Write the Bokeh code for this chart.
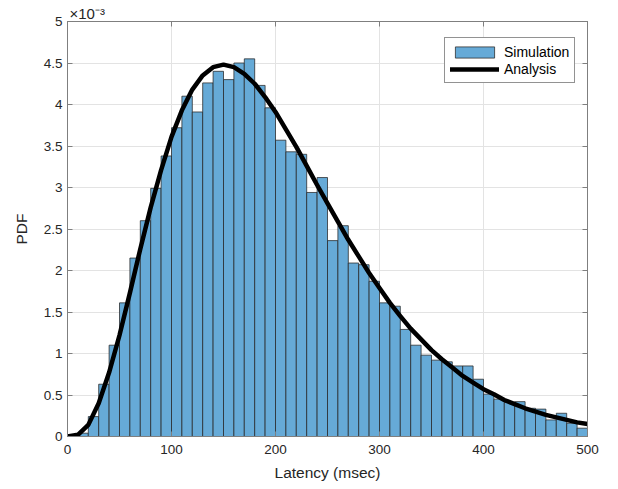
from bokeh.plotting import figure
from bokeh.models import (Range1d, FixedTicker, LinearAxis, Legend,
                          LegendItem, ColumnDataSource, Title)
from bokeh.embed import file_html
from bokeh.resources import INLINE

# ---- data (PDF values in units of 1e-3) ----
bin_left = [10, 20, 30, 40, 50, 60, 70, 80, 90, 100, 110, 120, 130, 140, 150,
            160, 170, 180, 190, 200, 210, 220, 230, 240, 250, 260, 270, 280,
            290, 300, 310, 320, 330, 340, 350, 360, 370, 380, 390, 400, 410,
            420, 430, 440, 450, 460, 470, 480, 490]
bin_width = 10
sim_pdf = [0.04, 0.24, 0.63, 1.10, 1.61, 2.15, 2.60, 2.99, 3.38, 3.72, 4.10,
           3.91, 4.26, 4.40, 4.30, 4.50, 4.55, 4.23, 3.96, 3.57, 3.43, 3.40,
           2.94, 3.12, 2.36, 2.54, 2.09, 2.07, 1.87, 1.61, 1.57, 1.29, 1.10,
           0.98, 0.92, 0.90, 0.85, 0.85, 0.69, 0.51, 0.45, 0.41, 0.42, 0.34,
           0.33, 0.20, 0.28, 0.16, 0.10]
curve_x = [0, 10, 20, 30, 40, 50, 60, 70, 80, 90, 100, 110, 120, 130, 140, 150,
           160, 170, 180, 190, 200, 210, 220, 230, 240, 250, 260, 270, 280, 290,
           300, 310, 320, 330, 340, 350, 360, 370, 380, 390, 400, 410, 420, 430,
           440, 450, 460, 470, 480, 490, 500]
curve_pdf = [0.0, 0.02, 0.14, 0.40, 0.77, 1.22, 1.73, 2.26, 2.76, 3.21, 3.61,
             3.93, 4.18, 4.35, 4.45, 4.48, 4.45, 4.37, 4.25, 4.09, 3.91, 3.70,
             3.49, 3.26, 3.03, 2.81, 2.59, 2.37, 2.17, 1.97, 1.79, 1.61, 1.45,
             1.30, 1.17, 1.04, 0.93, 0.83, 0.73, 0.65, 0.57, 0.51, 0.44, 0.39,
             0.34, 0.30, 0.26, 0.23, 0.20, 0.17, 0.15]
x_ticks = [0, 100, 200, 300, 400, 500]
y_ticks = [0, 0.5, 1, 1.5, 2, 2.5, 3, 3.5, 4, 4.5, 5]
y_tick_labels = ["0", "0.5", "1", "1.5", "2", "2.5", "3", "3.5", "4", "4.5", "5"]
y_exponent_label = "×10⁻³"

FONT = "Liberation Sans"
AX = "#7f7f7f"
TXT = "#262626"

p = figure(width=618, height=489, output_backend="svg", toolbar_location=None,
           x_range=Range1d(0, 500), y_range=Range1d(0, 5),
           min_border_left=67, min_border_right=31, min_border_top=21,
           min_border_bottom=53)
p.background_fill_color = "white"
p.border_fill_color = "white"
p.outline_line_color = AX
p.outline_line_width = 1

bars_src = ColumnDataSource(dict(
    left=bin_left,
    right=[b + bin_width for b in bin_left],
    top=sim_pdf))
bars = p.quad(left="left", right="right", top="top", bottom=0, source=bars_src,
              fill_color="#66aad7", fill_alpha=1.0,
              line_color="#262626", line_alpha=0.75, line_width=1)
curve = p.line(curve_x, curve_pdf, line_color="black", line_width=4.5,
               line_join="round", line_cap="round")

# axes styling
for ax in (p.xaxis[0], p.yaxis[0]):
    ax.axis_line_color = AX
    ax.major_tick_line_color = AX
    ax.major_tick_in = 5
    ax.major_tick_out = 0
    ax.minor_tick_line_color = None
    ax.major_label_text_font = FONT
    ax.major_label_text_font_size = "13.5px"
    ax.major_label_text_color = TXT
    ax.axis_label_text_font = FONT
    ax.axis_label_text_font_size = "15.5px"
    ax.axis_label_text_font_style = "normal"
    ax.axis_label_text_color = TXT

p.xaxis[0].ticker = FixedTicker(ticks=x_ticks)
p.xaxis[0].axis_label = "Latency (msec)"
p.xaxis[0].major_label_standoff = 8
p.xaxis[0].axis_label_standoff = 7

p.yaxis[0].ticker = FixedTicker(ticks=y_ticks)
p.yaxis[0].major_label_overrides = {t: s for t, s in zip(y_ticks, y_tick_labels)}
p.yaxis[0].axis_label = "PDF"
p.yaxis[0].major_label_standoff = 5
p.yaxis[0].axis_label_standoff = 11

# mirrored tick marks (box on)
right_ax = LinearAxis(ticker=FixedTicker(ticks=y_ticks),
                      major_label_overrides={t: "" for t in y_ticks})
top_ax = LinearAxis(ticker=FixedTicker(ticks=x_ticks),
                    major_label_overrides={t: "" for t in x_ticks})
for ax in (right_ax, top_ax):
    ax.axis_line_color = AX
    ax.major_tick_line_color = AX
    ax.major_tick_in = 5
    ax.major_tick_out = 0
    ax.minor_tick_line_color = None
    ax.major_label_standoff = 0
    ax.major_label_text_font_size = "1px"
p.add_layout(right_ax, "right")
p.add_layout(top_ax, "above")

# exponent marker above the top-left corner, as in MATLAB
exp_title = Title(text=y_exponent_label, align="left", offset=2, standoff=0,
                  text_font=FONT, text_font_size="15px",
                  text_font_style="normal", text_color=TXT)
p.add_layout(exp_title, "above")

# grid
p.xgrid.ticker = FixedTicker(ticks=x_ticks)
p.ygrid.ticker = FixedTicker(ticks=y_ticks)
p.grid.grid_line_color = "#e3e3e3"
p.grid.grid_line_width = 1

legend = Legend(items=[LegendItem(label="Simulation", renderers=[bars]),
                       LegendItem(label="Analysis", renderers=[curve])],
                location=(377, 353))
legend.label_text_font = FONT
legend.label_text_font_size = "14px"
legend.label_text_color = "black"
legend.glyph_width = 49
legend.glyph_height = 14
legend.label_height = 17
legend.label_standoff = 5
legend.spacing = 0
legend.padding = 5
legend.margin = 0
legend.border_line_color = "#262626"
legend.border_line_width = 1
legend.background_fill_color = "white"
legend.background_fill_alpha = 1.0
p.add_layout(legend, "center")

open("out.html", "w").write(file_html(p, INLINE))
